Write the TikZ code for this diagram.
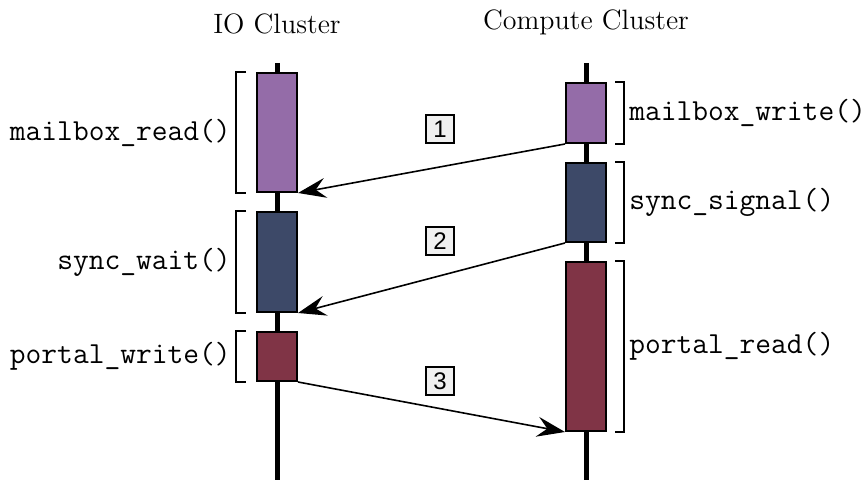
\documentclass[tikz,border=0pt]{standalone}
\usepackage{fontspec}
\newfontfamily\numfont{Liberation Sans}
\usepackage{tikz}
\usetikzlibrary{arrows.meta,calc,positioning}
\definecolor{callpurple}{RGB}{148,108,168}
\definecolor{callnavy}{RGB}{61,73,104}
\definecolor{callmaroon}{RGB}{128,52,70}
\tikzset{
    call/.style = {draw, line width=1pt, minimum width=20pt, inner sep=0pt, anchor=north},
    lifeline/.style = {line width=2.5pt},
    brk/.style = {line width=0.7pt},
    msg/.style = {line width=0.8pt, -{Stealth[length=14pt,width=10pt,inset=5pt]}},
    fname/.style = {font=\ttfamily\fontsize{15.3}{18}\selectfont, inner sep=0pt},
    step num/.style = {draw, line width=0.75pt, fill=gray!12, minimum size=14pt, inner sep=0pt,
        font=\numfont\fontsize{12}{14}\selectfont}
}

\begin{document}
\begin{tikzpicture}[x=0.5pt, y=-0.5pt]
    \useasboundingbox (0,0) rectangle (864,480);
    % Headers
    \node (io) at (277,24) {\fontsize{14}{16}\selectfont IO Cluster};
    \node (cc) at (586,22) {\fontsize{14}{16}\selectfont Compute Cluster};

    % Lifelines
    \coordinate (iotop) at (277,63);
    \coordinate (iobot) at (277,480);
    \coordinate (cctop) at (586,63);
    \coordinate (ccbot) at (586,480);
    \draw [lifeline] (iotop) -- (iobot);
    \draw [lifeline] (cctop) -- (ccbot);

    % Calls, IO side
    \node (mbread) [call, fill=callpurple, minimum height=59.5pt] at (277,72) {};
    \node (swait) [call, fill=callnavy, minimum height=50pt] at (277,211) {};
    \node (pwrite) [call, fill=callmaroon, minimum height=24.5pt] at (277,331) {};

    % Calls, compute side
    \node (mbwrite) [call, fill=callpurple, minimum height=30pt] at (586,82) {};
    \node (ssignal) [call, fill=callnavy, minimum height=39.5pt] at (586,162) {};
    \node (pread) [call, fill=callmaroon, minimum height=84.5pt] at (586,261) {};

    % Brackets
    \foreach \c in {mbread, swait, pwrite}
        \draw [brk] ([xshift=-5pt]\c.north west) -| ([xshift=-10pt]\c.south west) -- ([xshift=-5pt]\c.south west);
    \foreach \c in {mbwrite, ssignal, pread}
        \draw [brk] ([xshift=4pt]\c.north east) -| ([xshift=8.5pt]\c.south east) -- ([xshift=4pt]\c.south east);

    % Function names
    \node [fname, anchor=east] at ([xshift=-12.5pt]mbread.west) {mailbox\_read()};
    \node [fname, anchor=east] at ([xshift=-12.5pt]swait.west) {sync\_wait()};
    \node [fname, anchor=east] at ([xshift=-12.5pt]pwrite.west) {portal\_write()};
    \node [fname, anchor=west] at ([xshift=11pt]mbwrite.east) {mailbox\_write()};
    \node [fname, anchor=west] at ([xshift=11pt]ssignal.east) {sync\_signal()};
    \node [fname, anchor=west] at ([xshift=11pt]pread.east) {portal\_read()};

    % Messages
    \draw [msg] (mbwrite.south west) -- (mbread.south east);
    \draw [msg] (ssignal.south west) -- (swait.south east);
    \draw [msg] (pwrite.south east) -- (pread.south west);

    % Step numbers
    \node (n1) [step num] at (440,129) {1};
    \node (n2) [step num] at (440,241) {2};
    \node (n3) [step num] at (440,381) {3};
\end{tikzpicture}
\end{document}
